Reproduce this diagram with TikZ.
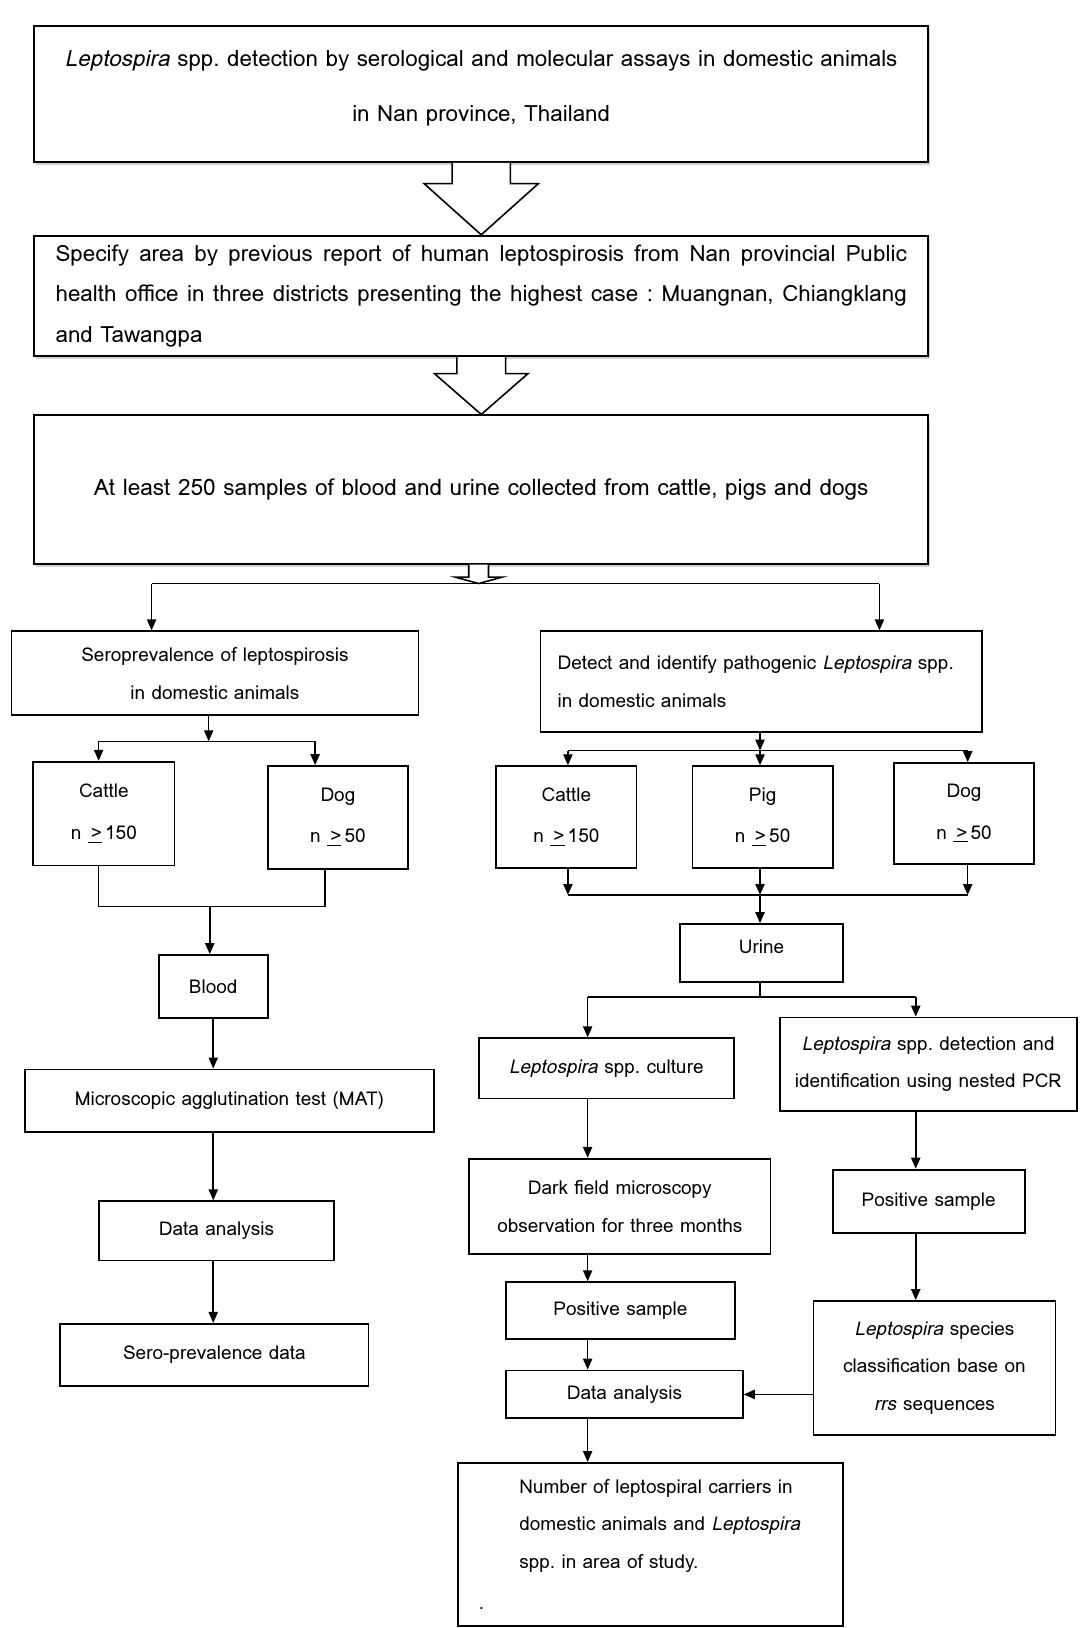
\documentclass[tikz,border=0pt]{standalone}
\usepackage{fontspec}
\setmainfont{Loma}
\usetikzlibrary{arrows.meta, positioning, calc, shadows}
\newdimen\dpx \dpx=0.5192pt
\frenchspacing
% one justified line of the area box
\newcommand\fullline[1]{\leavevmode\hbox to 820\dpx{\spaceskip=\fontdimen2\font plus 1fil\relax #1}}

\begin{document}
\begin{tikzpicture}[
  x=\dpx, y=-\dpx,
  font=\fontsize{9.5}{18.7}\selectfont,
  size/.style 2 args={minimum width=#1*\dpx, minimum height=#2*\dpx},
  box/.style={draw, line width=0.9pt, inner sep=0pt, align=center},
  bigbox/.style={box, fill=white, drop shadow={shadow xshift=0.8pt, shadow yshift=-1.6pt, fill=black!35}},
  arrow/.style={-{Triangle[length=5.5pt, width=4.6pt]}, line width=0.8pt},
  line/.style={line width=0.8pt},
  blockarrow/.style={draw, fill=white, line width=0.8pt, line join=miter}
]
\useasboundingbox (0,0) rectangle (1040,1568);

% top of the study
\node[bigbox, size={861}{131}, text depth=8.3pt, font=\fontsize{11.2}{27.5}\selectfont] (title) at (463.5,90.5)
  {\textit{Leptospira} spp. detection by serological and molecular assays in domestic animals\\in Nan province, Thailand};
\node[bigbox, size={861}{116}, align=left, text width=820*\dpx, font=\fontsize{11.2}{20.2}\selectfont] (area) at (463.5,285)
  {\fullline{Specify area by previous report of human leptospirosis from Nan provincial Public}\\
   \fullline{health office in three districts presenting the highest case : Muangnan, Chiangklang}\\
   and Tawangpa};
\node[bigbox, size={861}{143}, font=\fontsize{11.3}{18.7}\selectfont] (samples) at (463.5,471.5)
  {At least 250 samples of blood and urine collected from cattle, pigs and dogs};

% serology branch
\node[box, size={392}{81}] (sero) at (207,648.5) {Seroprevalence of leptospirosis\\in domestic animals};
\node[box, size={136}{100}, font=\fontsize{9.5}{20.8}\selectfont] (cattleA) at (100,783.6) {Cattle\\n \underline{\,>}\,150};
\node[box, size={135}{99}, font=\fontsize{9.5}{20.8}\selectfont] (dogA) at (325.5,787.3) {Dog\\n \underline{\,>}\,50};
\node[box, size={105}{61}] (blood) at (205.4,950.3) {Blood};
\node[box, size={394}{60}] (mat) at (221,1060) {Microscopic agglutination test (MAT)};
\node[box, size={227}{57}] (dataA) at (208.5,1185.5) {Data analysis};
\node[box, size={297}{60}] (serodata) at (206.5,1305) {Sero-prevalence data};

% molecular branch
\node[box, size={425}{97}, align=left, text width=392*\dpx] (detect) at (733,656.5)
  {Detect and identify pathogenic \textit{Leptospira} spp.\\in domestic animals};
\node[box, size={135}{98}, font=\fontsize{9.5}{20.8}\selectfont] (cattleB) at (545.5,787) {Cattle\\n \underline{\,>}\,150};
\node[box, size={135}{98}, font=\fontsize{9.5}{20.8}\selectfont] (pig) at (734.5,787) {Pig\\n \underline{\,>}\,50};
\node[box, size={135}{97}, font=\fontsize{9.5}{20.8}\selectfont] (dogB) at (928.5,783.5) {Dog\\n \underline{\,>}\,50};
\node[box, size={157}{56}, text depth=6pt] (urine) at (733.5,918) {Urine};
\node[box, size={246}{58}] (culture) at (584,1029) {\textit{Leptospira} spp. culture};
\node[box, size={286}{90}] (pcr) at (894,1025) {\textit{Leptospira} spp. detection and\\identification using nested PCR};
\node[box, size={290}{92}] (dark) at (597,1162) {Dark field microscopy\\observation for three months};
\node[box, size={185}{61}] (posB) at (894.5,1157) {Positive sample};
\node[box, size={220}{55}] (posA) at (597.6,1262.4) {Positive sample};
\node[box, size={233}{129}] (species) at (900,1317.5) {\textit{Leptospira} species\\classification base on\\\textit{rrs} sequences};
\node[box, size={228}{46}] (dataB) at (601.5,1343) {Data analysis};
\node[box, size={371}{157}, align=left, text width=331*\dpx] (final) at (626.7,1487.5)
  {\hspace*{39\dpx}Number of leptospiral carriers in\\
   \hspace*{39\dpx}domestic animals and \textit{Leptospira}\\
   \hspace*{39\dpx}spp. in area of study.\\[2pt]
   .};

% block arrows
\draw[blockarrow] ($(title.south)+(-28,0)$) -- ++(0,20) -- ++(-27,0) -- (title.south |- area.north)
  -- ($(title.south)+(55,20)$) -- ++(-27,0) -- ($(title.south)+(28,0)$);
\draw[blockarrow] ($(area.south)+(-23.5,0)$) -- ++(0,16) -- ++(-21.5,0) -- (area.south |- samples.north)
  -- ($(area.south)+(45,16)$) -- ++(-21.5,0) -- ($(area.south)+(23.5,0)$);
\coordinate (topsplit) at (461,562);
\draw[blockarrow] ($(samples.south)+(-12,0)$) -- ++(0,12) -- ++(-13,0) -- (topsplit)
  -- ($(samples.south)+(20,12)$) -- ++(-13,0) -- ($(samples.south)+(7,0)$);

% split to both branches
\coordinate (splitL) at (146,562);
\coordinate (splitR) at (847,562);
\draw[line] (splitL) -- (splitR);
\draw[arrow] (splitL) -- (splitL |- sero.north);
\draw[arrow] (splitR) -- (splitR |- detect.north);

% serology connectors
\coordinate (seroj) at (201,714);
\coordinate (cA) at (95,714);
\coordinate (dA) at (303.5,714);
\draw[arrow] (seroj |- sero.south) -- (seroj);
\draw[line] (cA) -- (dA);
\draw[arrow] (cA) -- (cA |- cattleA.north);
\draw[arrow] (dA) -- (dA |- dogA.north);
\coordinate (cB) at (95,873);
\coordinate (dB) at (313,873);
\coordinate (bj) at (202,873);
\draw[line] (cB |- cattleA.south) -- (cB) -- (dB) -- (dB |- dogA.south);
\draw[arrow] (bj) -- (bj |- blood.north);
\draw[arrow] (blood.south) -- (blood.south |- mat.north);
\draw[arrow] (blood.south |- mat.south) -- (blood.south |- dataA.north);
\draw[arrow] (blood.south |- dataA.south) -- (blood.south |- serodata.north);

% molecular connectors
\coordinate (dj) at (732,723);
\coordinate (kC) at (547,723);
\coordinate (kD) at (932,723);
\draw[arrow] (dj |- detect.south) -- (dj);
\draw[line] (kC) -- (kD);
\draw[arrow] (kC) -- (kC |- cattleB.north);
\draw[arrow] (dj) -- (dj |- pig.north);
\draw[arrow] (kD) -- (kD |- dogB.north);
\coordinate (mC) at (547,862);
\coordinate (mP) at (732,862);
\coordinate (mD) at (932,862);
\draw[line] (mC) -- (mD);
\draw[arrow] (mC |- cattleB.south) -- (mC);
\draw[arrow] (mP |- pig.south) -- (mP);
\draw[arrow] (mD |- dogB.south) -- (mD);
\draw[arrow] (mP) -- (mP |- urine.north);
\coordinate (uj) at (732,960);
\coordinate (uC) at (566,960);
\coordinate (uP) at (882,960);
\draw[line] (uj |- urine.south) -- (uj);
\draw[line] (uC) -- (uP);
\draw[arrow] (uC) -- (uC |- culture.north);
\draw[arrow] (uP) -- (uP |- pcr.north);
\draw[arrow] (uC |- culture.south) -- (uC |- dark.north);
\draw[arrow] (uC |- dark.south) -- (uC |- posA.north);
\draw[arrow] (uC |- posA.south) -- (uC |- dataB.north);
\draw[arrow] (uC |- dataB.south) -- (uC |- final.north);
\draw[arrow] (uP |- pcr.south) -- (uP |- posB.north);
\draw[arrow] (uP |- posB.south) -- (uP |- species.north);
\draw[arrow] (dataB.east -| species.west) -- (dataB.east);
\end{tikzpicture}
\end{document}
